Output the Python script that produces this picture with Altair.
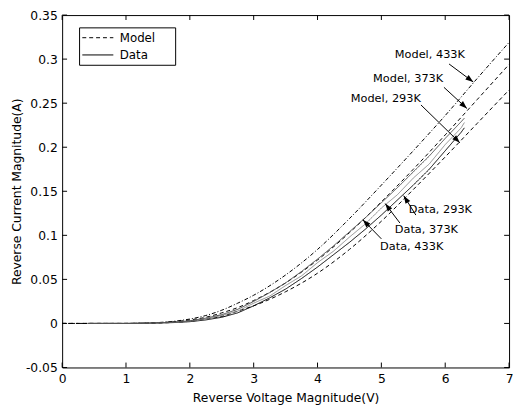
import math
import altair as alt
import pandas as pd

# ---------------- data ----------------
V_MODEL = [0.0, 0.5, 1.0, 1.25, 1.5, 1.75, 2.0, 2.25, 2.5, 2.75, 3.0, 3.5, 4.0, 4.5, 5.0, 5.5, 6.0, 6.5, 7.0]
I_MODEL_433 = [0.0, 0.0, 0.0, 0.0003, 0.001, 0.0025, 0.005, 0.009, 0.015, 0.023, 0.032, 0.055, 0.084, 0.119, 0.157, 0.196, 0.236, 0.278, 0.319]
I_MODEL_373 = [0.0, 0.0, 0.0, 0.0002, 0.0008, 0.002, 0.004, 0.007, 0.012, 0.018, 0.026, 0.046, 0.072, 0.103, 0.138, 0.175, 0.214, 0.254, 0.294]
I_MODEL_293 = [0.0, 0.0, 0.0, 0.0001, 0.0005, 0.0012, 0.0025, 0.005, 0.008, 0.014, 0.020, 0.036, 0.057, 0.084, 0.116, 0.152, 0.189, 0.227, 0.265]

V_DATA = [0.4, 0.75, 1.0, 1.25, 1.5, 1.75, 2.0, 2.25, 2.5, 2.75, 3.0, 3.25, 3.5, 3.75, 4.0, 4.25, 4.5, 4.75, 5.0, 5.25, 5.5, 5.75, 6.0, 6.25, 6.3]
I_DATA_293 = [0.0, 0.0, 0.0, 0.0002, 0.0005, 0.001, 0.002, 0.004, 0.007, 0.012, 0.020, 0.029, 0.039, 0.051, 0.064, 0.078, 0.092, 0.107, 0.123, 0.140, 0.157, 0.175, 0.196, 0.217, 0.222]
I_DATA_373 = [0.0, 0.0, 0.0, 0.0002, 0.0006, 0.0012, 0.0025, 0.005, 0.009, 0.014, 0.023, 0.031, 0.043, 0.054, 0.069, 0.082, 0.098, 0.113, 0.131, 0.146, 0.165, 0.181, 0.203, 0.222, 0.228]
I_DATA_433 = [0.0, 0.0, 0.0, 0.0002, 0.0007, 0.0015, 0.003, 0.006, 0.010, 0.016, 0.025, 0.035, 0.046, 0.059, 0.073, 0.088, 0.104, 0.120, 0.137, 0.154, 0.172, 0.190, 0.210, 0.229, 0.233]

SERIES = ["Model, 433K", "Model, 373K", "Model, 293K", "Data, 293K", "Data, 373K", "Data, 433K"]
SERIES_COLORS = ["black", "black", "black", "black", "#8c8c8c", "#4a4a4a"]
SERIES_DASH = [[4, 2, 1, 2], [4, 3], [4, 3], [1, 0], [1, 0], [1, 0]]

# annotations (text left edge / centre, arrow start -> arrow tip), data units
ANN_LABELS = ["Model, 433K", "Model, 373K", "Model, 293K", "Data, 293K", "Data, 373K", "Data, 433K"]
ANN_TEXT_X = [5.21, 4.87, 4.52, 5.43, 5.21, 4.98]
ANN_TEXT_Y = [0.3045, 0.277, 0.2547, 0.1288, 0.1064, 0.087]
ANN_X1 = [6.06, 5.98, 5.62, 5.54, 5.29, 5.00]
ANN_Y1 = [0.2945, 0.268, 0.248, 0.123, 0.114, 0.096]
ANN_X2 = [6.44, 6.34, 6.23, 5.35, 5.06, 4.71]
ANN_Y2 = [0.274, 0.244, 0.205, 0.145, 0.136, 0.1176]

X_TICKS = [0, 1, 2, 3, 4, 5, 6, 7]
Y_TICKS = [-0.05, 0.0, 0.05, 0.1, 0.15, 0.2, 0.25, 0.3, 0.35]

LEGEND_LABELS = ["Model", "Data"]

# ---------------- build tables ----------------
W, H = 454, 358
X_DOM = [0, 7]
Y_DOM = [-0.05, 0.35]
PX_X = W / (X_DOM[1] - X_DOM[0])
PX_Y = H / (Y_DOM[1] - Y_DOM[0])

rows = []
for name, vals in zip(SERIES[:3], [I_MODEL_433, I_MODEL_373, I_MODEL_293]):
    for i, (v, c) in enumerate(zip(V_MODEL, vals)):
        rows.append({"V": v, "I": c, "series": name, "o": i})
model_df = pd.DataFrame(rows)
rows = []
for name, vals in zip(SERIES[3:], [I_DATA_293, I_DATA_373, I_DATA_433]):
    for i, (v, c) in enumerate(zip(V_DATA, vals)):
        rows.append({"V": v, "I": c, "series": name, "o": i})
data_df = pd.DataFrame(rows)

angles = []
for x1, y1, x2, y2 in zip(ANN_X1, ANN_Y1, ANN_X2, ANN_Y2):
    dx = (x2 - x1) * PX_X
    dy = -(y2 - y1) * PX_Y
    angles.append(math.degrees(math.atan2(dx, -dy)) % 360)
ann_df = pd.DataFrame({
    "label": ANN_LABELS, "tx": ANN_TEXT_X, "ty": ANN_TEXT_Y,
    "x1": ANN_X1, "y1": ANN_Y1, "x2": ANN_X2, "y2": ANN_Y2, "ang": angles,
})
xt_df = pd.DataFrame({"v": X_TICKS})
yt_df = pd.DataFrame({"v": Y_TICKS})
one = pd.DataFrame({"a": [0]})

xs = alt.Scale(domain=X_DOM, nice=False, zero=False)
ys = alt.Scale(domain=Y_DOM, nice=False, zero=False)
cscale = alt.Scale(domain=SERIES, range=SERIES_COLORS)
dscale = alt.Scale(domain=SERIES, range=SERIES_DASH)

AX_FONT = "DejaVu Sans"
X_TITLE = "Reverse Voltage Magnitude(V)"
Y_TITLE = "Reverse Current Magnitude(A)"
x_axis = alt.Axis(title=X_TITLE, values=X_TICKS, format="d",
                  ticks=False, domain=False, grid=False, labelPadding=5,
                  labelFont=AX_FONT, titleFont=AX_FONT, labelFontSize=12.5, titleFontSize=12.5,
                  titleFontWeight="normal", labelColor="black", titleColor="black",
                  labelFlush=False, labelOverlap=False,
                  titleX=W / 2, titleY=31, titleBaseline="middle")
y_axis = alt.Axis(title=Y_TITLE, values=Y_TICKS,
                  labelExpr="replace(format(datum.value, '~g'), '\u2212', '-')",
                  ticks=False, domain=False, grid=False, labelPadding=5,
                  labelFont=AX_FONT, titleFont=AX_FONT, labelFontSize=12.5, titleFontSize=12.5,
                  titleFontWeight="normal", labelColor="black", titleColor="black",
                  labelOverlap=False, titleX=-46, titleY=H / 2, titleBaseline="middle")


def X(field):
    return alt.X(field, scale=xs, axis=x_axis, title=X_TITLE)


def Y(field):
    return alt.Y(field, scale=ys, axis=y_axis, title=Y_TITLE)


models = alt.Chart(model_df).mark_line(strokeWidth=1, interpolate="monotone").encode(
    x=X("V:Q"), y=Y("I:Q"),
    color=alt.Color("series:N", scale=cscale, legend=None),
    strokeDash=alt.StrokeDash("series:N", scale=dscale, legend=None),
    order="o:Q",
)
datas = alt.Chart(data_df).mark_line(strokeWidth=1).encode(
    x=X("V:Q"), y=Y("I:Q"),
    color=alt.Color("series:N", scale=cscale, legend=None),
    strokeDash=alt.StrokeDash("series:N", scale=dscale, legend=None),
    order="o:Q",
)

arrows = alt.Chart(ann_df).mark_rule(color="black", strokeWidth=1).encode(
    x=X("x1:Q"), y=Y("y1:Q"), x2="x2:Q", y2="y2:Q",
)
heads = alt.Chart(ann_df).mark_point(
    shape="M0,0L-0.7,2L0.7,2Z", filled=True, color="black", opacity=1, size=64, strokeWidth=0
).encode(
    x=X("x2:Q"), y=Y("y2:Q"), angle=alt.Angle("ang:Q", scale=None),
)
texts = alt.Chart(ann_df).mark_text(
    align="left", baseline="middle", font=AX_FONT, fontSize=11.5, color="black"
).encode(
    x=X("tx:Q"), y=Y("ty:Q"), text="label:N",
)

TL = 5
tick_b = alt.Chart(xt_df).mark_rule(color="black").encode(
    x=X("v:Q"), y=alt.value(H), y2=alt.value(H - TL))
tick_t = alt.Chart(xt_df).mark_rule(color="black").encode(
    x=X("v:Q"), y=alt.value(0), y2=alt.value(TL))
tick_l = alt.Chart(yt_df).mark_rule(color="black").encode(
    y=Y("v:Q"), x=alt.value(0), x2=alt.value(TL))
tick_r = alt.Chart(yt_df).mark_rule(color="black").encode(
    y=Y("v:Q"), x=alt.value(W), x2=alt.value(W - TL))

# legend box (pixel placement inside the plot)
leg_box = alt.Chart(one).mark_rect(fill="white", stroke="black", strokeWidth=1).encode(
    x=alt.value(17.7), x2=alt.value(115.3), y=alt.value(13), y2=alt.value(51))
leg_l1 = alt.Chart(one).mark_rule(color="black", strokeDash=[4, 3]).encode(
    x=alt.value(20.5), x2=alt.value(52), y=alt.value(23))
leg_l2 = alt.Chart(one).mark_rule(color="black").encode(
    x=alt.value(20.5), x2=alt.value(52), y=alt.value(40.5))
leg_t1 = alt.Chart(one).mark_text(align="left", baseline="middle", font=AX_FONT, fontSize=12,
                                  color="black", text=LEGEND_LABELS[0]).encode(
    x=alt.value(58.5), y=alt.value(23))
leg_t2 = alt.Chart(one).mark_text(align="left", baseline="middle", font=AX_FONT, fontSize=12,
                                  color="black", text=LEGEND_LABELS[1]).encode(
    x=alt.value(58.5), y=alt.value(40.5))

chart = alt.layer(
    models, datas, arrows, heads, texts,
    tick_b, tick_t, tick_l, tick_r,
    leg_box, leg_l1, leg_l2, leg_t1, leg_t2,
).properties(
    width=W, height=H,
    autosize=alt.AutoSizeParams(type="none"),
    padding={"left": 55, "top": 4, "right": 4, "bottom": 40},
    background="white",
).configure_view(stroke="black", strokeWidth=1)

chart.save("out.html", embed_options={"renderer": "svg", "actions": False})
